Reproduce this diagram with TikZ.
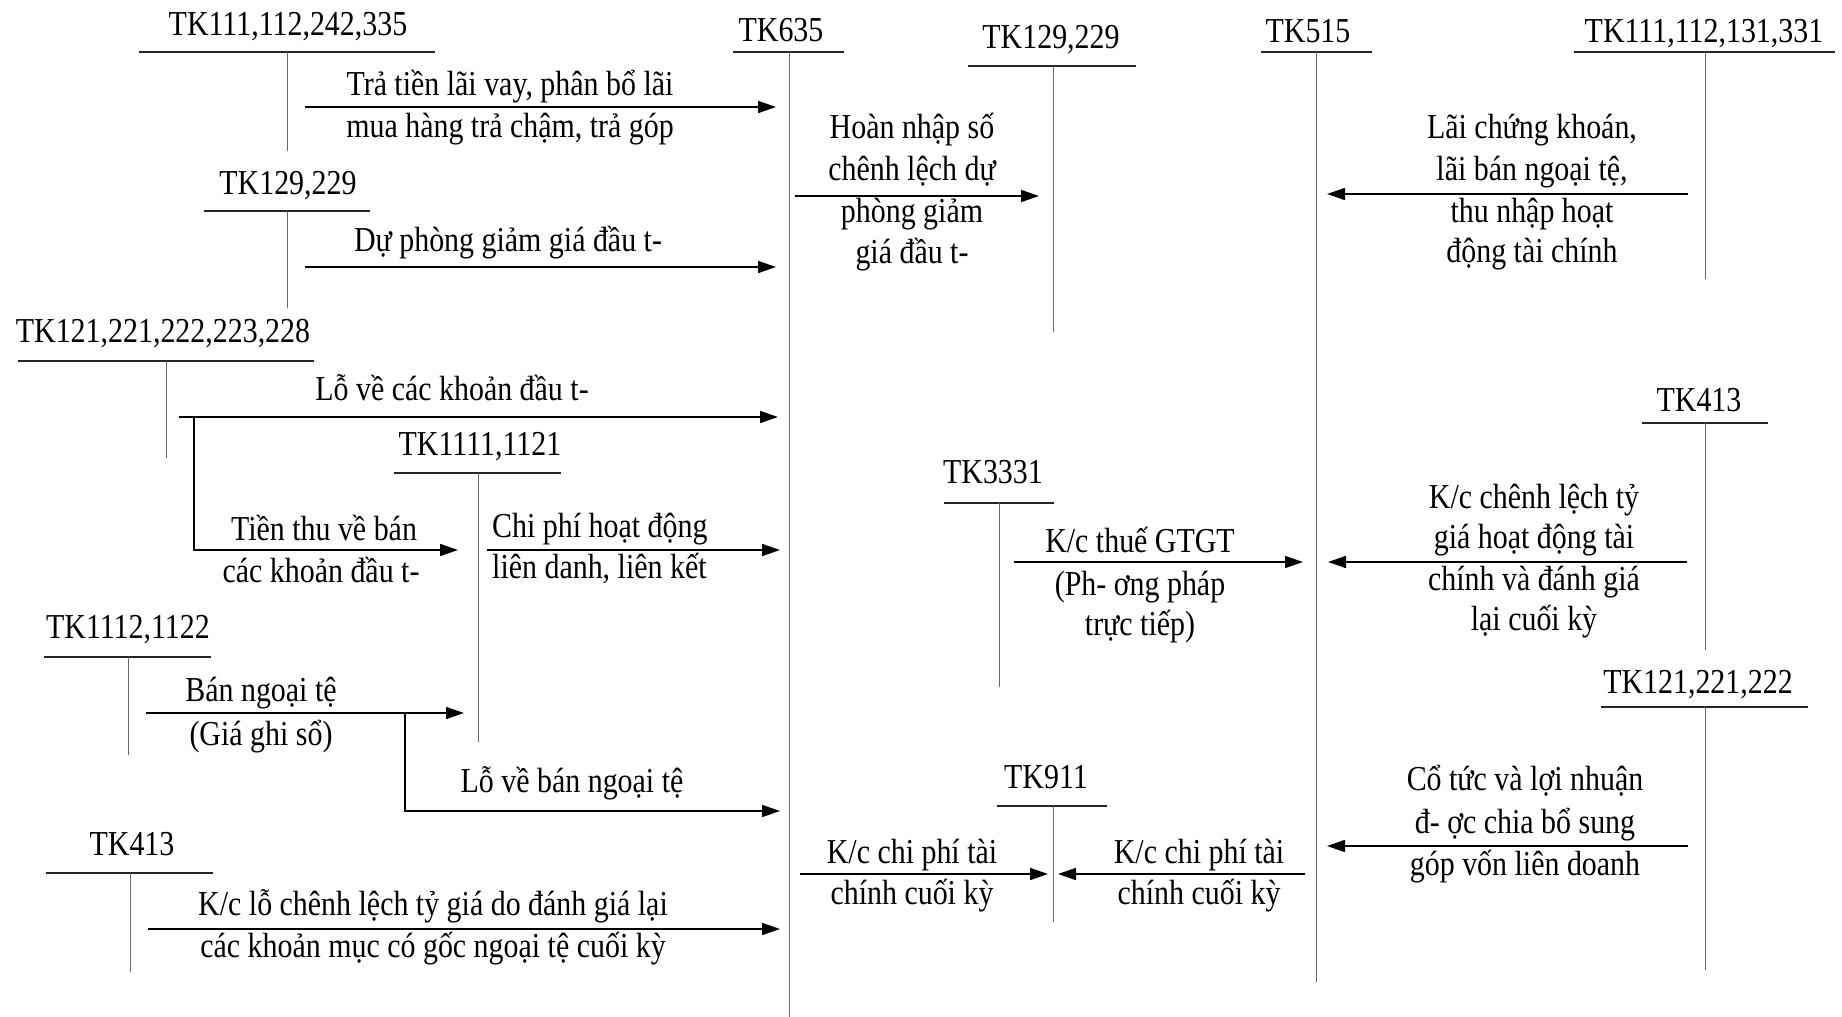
\documentclass[tikz,border=0pt]{standalone}
\usepackage{fontspec}
\setmainfont[FakeStretch=0.855]{Liberation Serif}
\usetikzlibrary{arrows.meta}

% T-account: title, underline and stem
% #1 name, #2 title, #3 #4 title base point, #5 #6 underline ends, #7 underline y,
% #8 stem x, #9 stem bottom y
\newcommand\taccount[9]{%
  \node[ttl] (#1) at (#3,#4) {#2};
  \draw[rule] (#5,#7) -- (#6,#7);
  \coordinate (#1-top) at (#8,#7);
  \coordinate (#1-bot) at (#8,#9);
  \draw[stem] (#1-top) -- (#1-bot);
}
% one line of text set on its baseline
\newcommand\tline[4]{\node[txt] (#1) at (#2,#3) {#4};}
\newcommand\lline[4]{\node[txt,anchor=base west] (#1) at (#2,#3) {#4};}

\begin{document}
\begin{tikzpicture}[x=1pt,y=-1pt,
  txt/.style={anchor=base,inner sep=0pt,font=\fontsize{35}{42}\selectfont},
  ttl/.style={txt},
  rule/.style={line width=1.4pt,black!85},
  stem/.style={line width=1pt,black!60},
  flow/.style={line width=1.6pt,-{Triangle[length=18pt,width=12pt]}}]
\useasboundingbox (0,0) rectangle (1842,1017);
\fill[white] (0,0) rectangle (1842,1017);

% accounts
\taccount{tkA}{TK111,112,242,335}{288}{35}{139}{435}{52}{287}{151}
\taccount{tkM}{TK635}{781}{41}{733}{844}{52}{789}{1017}
\taccount{tkN}{TK129,229}{1051}{48}{968}{1136}{66}{1053}{332}
\taccount{tkR}{TK515}{1308}{42}{1261}{1372}{52}{1316}{982}
\taccount{tkB}{TK111,112,131,331}{1704}{42}{1574}{1835}{52}{1705}{279}
\taccount{tkC}{TK129,229}{288}{194}{204}{370}{211}{287}{308}
\taccount{tkD}{TK121,221,222,223,228}{163}{342}{18}{314}{361}{166}{458}
\taccount{tkE}{TK1111,1121}{480}{455}{394}{561}{473}{478}{742}
\taccount{tkF}{TK1112,1122}{128}{638}{44}{211}{657}{128}{755}
\taccount{tkG}{TK413}{132}{855}{46}{213}{873}{130}{972}
\taccount{tkH}{TK3331}{993}{483}{944}{1054}{503}{999}{687}
\taccount{tkI}{TK413}{1699}{411}{1642}{1768}{423}{1705}{650}
\taccount{tkJ}{TK121,221,222}{1698}{693}{1601}{1808}{707}{1705}{970}
\taccount{tkK}{TK911}{1046}{788}{997}{1107}{806}{1053}{922}

% flow ends
\coordinate (a1s) at (305,107);  \coordinate (a1e) at (776,107);
\coordinate (a2s) at (305,267);  \coordinate (a2e) at (776,267);
\coordinate (a3s) at (795,196);  \coordinate (a3e) at (1039,196);
\coordinate (a4s) at (1688,194); \coordinate (a4e) at (1327,194);
\coordinate (a5s) at (179,417);  \coordinate (a5e) at (778,417);
\coordinate (a6s) at (194,417);  \coordinate (a6e) at (458,550);
\coordinate (a7s) at (487,550);  \coordinate (a7e) at (780,550);
\coordinate (a8s) at (1014,562); \coordinate (a8e) at (1303,562);
\coordinate (a9s) at (1687,562); \coordinate (a9e) at (1328,562);
\coordinate (a10s) at (146,713); \coordinate (a10e) at (464,713);
\coordinate (a11s) at (405,713); \coordinate (a11e) at (780,811);
\coordinate (a12s) at (148,929); \coordinate (a12e) at (780,929);
\coordinate (a13s) at (1688,846); \coordinate (a13e) at (1327,846);
\coordinate (a14s) at (800,874); \coordinate (a14e) at (1048,874);
\coordinate (a15s) at (1305,874); \coordinate (a15e) at (1058,874);

% flows
\draw[flow] (a1s) -- (a1e);
\draw[flow] (a2s) -- (a2e);
\draw[flow] (a3s) -- (a3e);
\draw[flow] (a4s) -- (a4e);
\draw[flow] (a5s) -- (a5e);
\draw[flow] (a6s) |- (a6e);
\draw[flow] (a7s) -- (a7e);
\draw[flow] (a8s) -- (a8e);
\draw[flow] (a9s) -- (a9e);
\draw[flow] (a10s) -- (a10e);
\draw[flow] (a11s) |- (a11e);
\draw[flow] (a12s) -- (a12e);
\draw[flow] (a13s) -- (a13e);
\draw[flow] (a14s) -- (a14e);
\draw[flow] (a15s) -- (a15e);

% labels
\tline{l1a}{510}{95}{Trả tiền lãi vay, phân bổ lãi}
\tline{l1b}{510}{137}{mua hàng trả chậm, trả góp}
\tline{l2a}{508}{251}{Dự phòng giảm giá đầu t-}
\tline{l3a}{912}{138}{Hoàn nhập số}
\tline{l3b}{912}{180}{chênh lệch dự}
\tline{l3c}{912}{222}{phòng giảm}
\tline{l3d}{912}{263}{giá đầu t-}
\tline{l4a}{1532}{138}{Lãi chứng khoán,}
\tline{l4b}{1532}{180}{lãi bán ngoại tệ,}
\tline{l4c}{1532}{222}{thu nhập hoạt}
\tline{l4d}{1532}{262}{động tài chính}
\tline{l5a}{452}{400}{Lỗ về các khoản đầu t-}
\tline{l6a}{324}{540}{Tiền thu về bán}
\tline{l6b}{321}{582}{các khoản đầu t-}
\lline{l7a}{492}{537}{Chi phí hoạt động}
\lline{l7b}{492}{578}{liên danh, liên kết}
\tline{l8a}{1140}{552}{K/c thuế GTGT}
\tline{l8b}{1140}{595}{(Ph- ơng pháp}
\tline{l8c}{1140}{635}{trực tiếp)}
\tline{l9a}{1534}{508}{K/c chênh lệch tỷ}
\tline{l9b}{1534}{548}{giá hoạt động tài}
\tline{l9c}{1534}{590}{chính và đánh giá}
\tline{l9d}{1534}{630}{lại cuối kỳ}
\tline{l10a}{261}{701}{Bán ngoại tệ}
\tline{l10b}{261}{745}{(Giá ghi sổ)}
\tline{l11a}{572}{792}{Lỗ về bán ngoại tệ}
\tline{l12a}{433}{915}{K/c lỗ chênh lệch tỷ giá do đánh giá lại}
\tline{l12b}{433}{957}{các khoản mục có gốc ngoại tệ cuối kỳ}
\tline{l13a}{1525}{790}{Cổ tức và lợi nhuận}
\tline{l13b}{1525}{833}{đ- ợc chia bổ sung}
\tline{l13c}{1525}{875}{góp vốn liên doanh}
\tline{l14a}{912}{863}{K/c chi phí tài}
\tline{l14b}{912}{904}{chính cuối kỳ}
\tline{l15a}{1199}{863}{K/c chi phí tài}
\tline{l15b}{1199}{904}{chính cuối kỳ}
\end{tikzpicture}
\end{document}
